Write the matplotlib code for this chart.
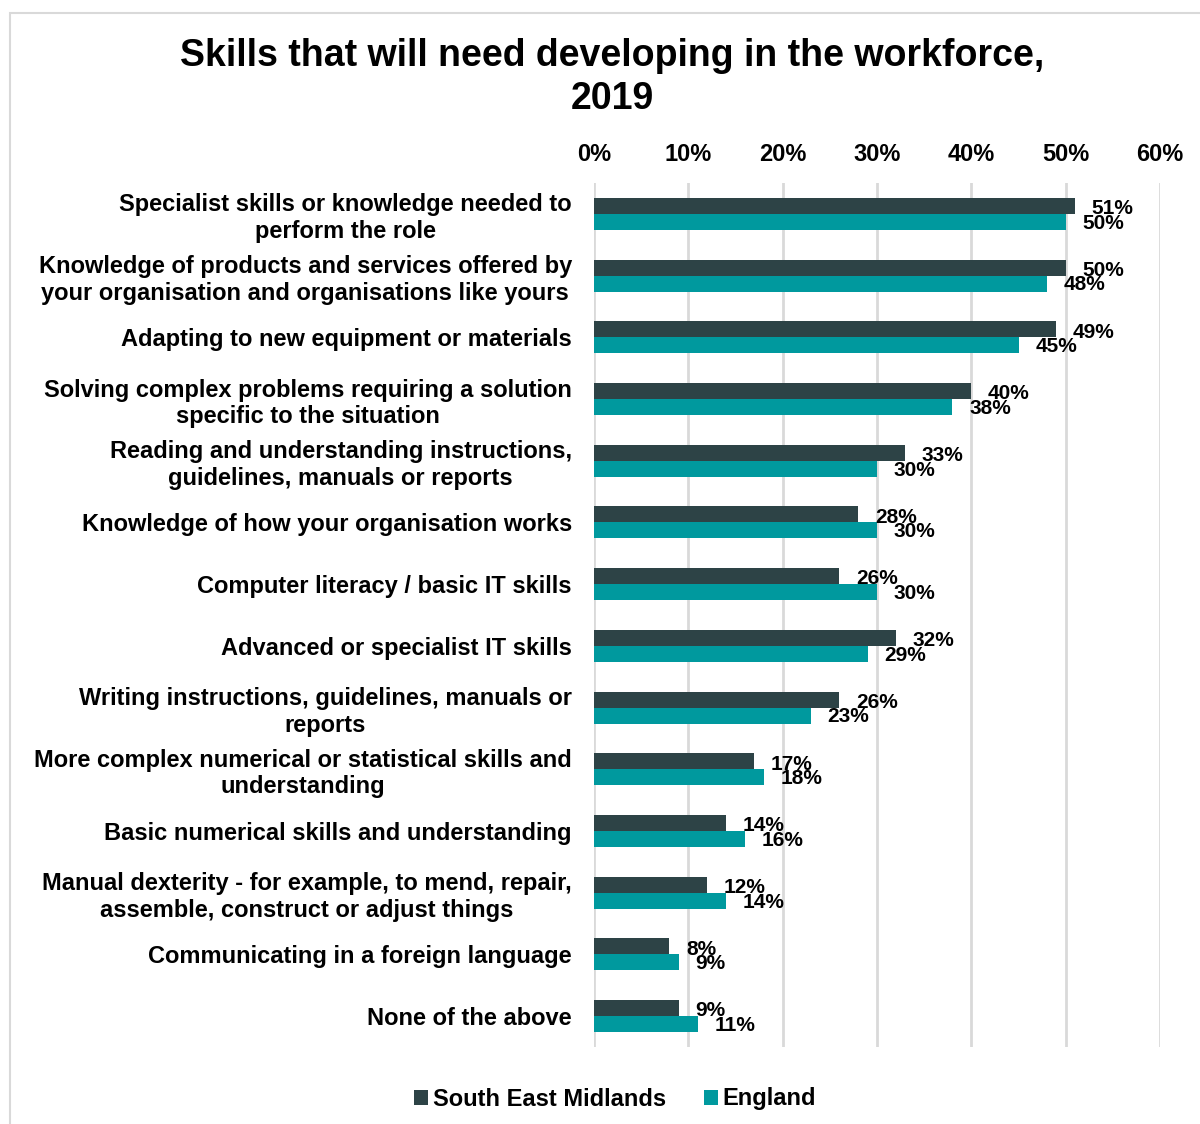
import matplotlib
matplotlib.use("Agg")
import matplotlib.pyplot as plt
from matplotlib.patches import Rectangle
import numpy as np

plt.rcParams["font.family"] = ["Liberation Sans", "DejaVu Sans"]
plt.rcParams["font.weight"] = "bold"

skills = [
    "Specialist skills or knowledge needed to\nperform the role",
    "Knowledge of products and services offered by\nyour organisation and organisations like yours",
    "Adapting to new equipment or materials",
    "Solving complex problems requiring a solution\nspecific to the situation",
    "Reading and understanding instructions,\nguidelines, manuals or reports",
    "Knowledge of how your organisation works",
    "Computer literacy / basic IT skills",
    "Advanced or specialist IT skills",
    "Writing instructions, guidelines, manuals or\nreports",
    "More complex numerical or statistical skills and\nunderstanding",
    "Basic numerical skills and understanding",
    "Manual dexterity - for example, to mend, repair,\nassemble, construct or adjust things",
    "Communicating in a foreign language",
    "None of the above",
]
south_east_midlands = [51, 50, 49, 40, 33, 28, 26, 32, 26, 17, 14, 12, 8, 9]
england = [50, 48, 45, 38, 30, 30, 30, 29, 23, 18, 16, 14, 9, 11]
xticks = [0, 10, 20, 30, 40, 50, 60]

DARK = "#2D4346"
TEAL = "#00999E"
GRID = "#D9D9D9"

fig = plt.figure(figsize=(12, 11.24), dpi=100)
fig.patches.append(Rectangle((10 / 1200, -0.01), 1.0, 1 - 13 / 1124 + 0.01,
                             transform=fig.transFigure, fill=False,
                             edgecolor=GRID, linewidth=1.5))
ax = fig.add_axes([594 / 1200, 1 - 1047 / 1124, 566 / 1200, 864 / 1124])

y = np.arange(len(skills))
h = 0.26
ax.barh(y - h / 2, south_east_midlands, height=h, color=DARK,
        label="South East Midlands", zorder=3)
ax.barh(y + h / 2, england, height=h, color=TEAL, label="England", zorder=3)

# value labels sit just past the bar ends, nudged apart vertically
for yi, v in zip(y, south_east_midlands):
    ax.annotate(f"{v}%", (v, yi - h / 2), xytext=(12, -2),
                textcoords="offset points", ha="left", va="center",
                fontsize=15, fontweight="bold", zorder=4)
for yi, v in zip(y, england):
    ax.annotate(f"{v}%", (v, yi + h / 2), xytext=(12, -1),
                textcoords="offset points", ha="left", va="center",
                fontsize=15, fontweight="bold", zorder=4)

ax.set_xlim(0, 60)
ax.set_ylim(len(skills) - 0.5, -0.5)
ax.set_xticks(xticks)
ax.set_xticklabels([f"{t}%" for t in xticks], fontsize=17, fontweight="bold")
ax.xaxis.tick_top()
ax.tick_params(axis="x", length=0, pad=12)
ax.set_yticks(y)
ax.set_yticklabels(skills, fontsize=17, fontweight="bold", ha="right",
                   linespacing=1.2)
ax.tick_params(axis="y", length=0, pad=16)
for lbl in ax.get_yticklabels():
    lbl.set_multialignment("center")
ax.grid(axis="x", color=GRID, linewidth=2, zorder=0)
for s in ax.spines.values():
    s.set_visible(False)

fig.suptitle("Skills that will need developing in the workforce,\n2019",
             x=612 / 1200, y=1 - 38 / 1124, va="top",
             fontsize=27, fontweight="bold", linespacing=1.25)

fig.legend(loc="center", bbox_to_anchor=(615 / 1200, 1 - 1099 / 1124),
           ncol=2, frameon=False, handlelength=0.6,
           handleheight=0.6, handletextpad=0.2, columnspacing=1.6,
           prop={"weight": "bold", "size": 17})

fig.savefig("out.png", dpi=100, facecolor="white")
